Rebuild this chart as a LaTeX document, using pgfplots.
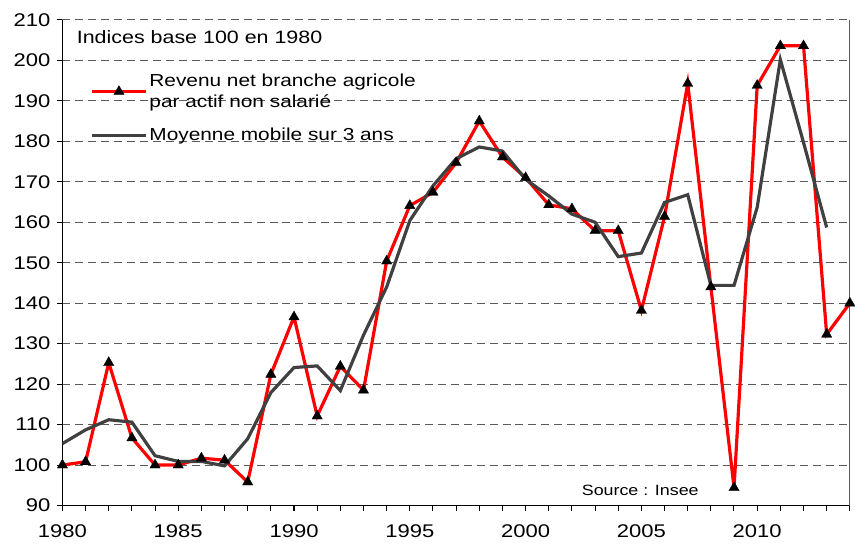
\documentclass[border=0pt]{standalone}
\usepackage{pgfplots}
\pgfplotsset{compat=1.18}
\usepackage{fontspec}
\setmainfont{Liberation Sans}[FakeStretch=1.2]
\definecolor{rred}{HTML}{FF0000}
\definecolor{mgray}{HTML}{404040}
\definecolor{ggray}{HTML}{5A5A5A}
\begin{document}
\begin{tikzpicture}
\begin{axis}[
  scale only axis, width=790.8bp, height=487.7bp,
  xmin=1980, xmax=2014, ymin=90, ymax=210,
  xtick={1980,1985,...,2010}, minor xtick={1980,...,2014},
  ytick={90,100,...,210},
  axis x line*=bottom, axis y line*=left,
  axis line style={black, line width=1.4bp, -},
  tick align=outside, major tick length=5.5bp, minor tick length=5.5bp,
  tick style={black, line width=1bp},
  ymajorgrids, grid style={ggray, line width=1bp, dash pattern=on 8bp off 5bp},
  /pgf/number format/1000 sep={}, /pgf/number format/assume math mode=true,
  tick label style={font=\fontsize{18.5}{21}\selectfont},
  yticklabel style={xshift=-3bp},
  xticklabel style={yshift=-10bp},
  legend style={at={([xshift=25bp,yshift=-50bp]rel axis cs:0,1)}, anchor=north west, draw=none, fill=none,
    font=\fontsize{17.5}{21.6}\selectfont, row sep=15bp,
    cells={anchor=west, align=left}},
  legend cell align=left,
  legend image code/.code={\draw[mark repeat=2,mark phase=2,#1] plot coordinates {(0bp,0bp) (27bp,0bp) (54bp,0bp)};},
]
\addplot[rred, line width=3.2bp, mark=triangle*, mark size=6bp, mark options={black, fill=black, solid, line width=0.3bp}] coordinates {
(1980,100.0) (1981,100.8) (1982,125.3) (1983,106.7) (1984,100.0) (1985,100.0)
(1986,101.7) (1987,101.2) (1988,95.8) (1989,122.4) (1990,136.6) (1991,112.1)
(1992,124.4) (1993,118.5) (1994,150.4) (1995,164.1) (1996,167.4) (1997,174.7)
(1998,185.0) (1999,176.1) (2000,171.0) (2001,164.3) (2002,163.3) (2003,157.9)
(2004,157.9) (2005,138.2) (2006,161.4) (2007,194.3) (2008,144.0) (2009,94.4)
(2010,193.8) (2011,203.6) (2012,203.6) (2013,132.3) (2014,140.0)};
\addlegendentry{Revenu net branche agricole\\par actif non salarié}
\addplot[mgray, line width=3.2bp, no marks] coordinates {
(1980,105.3) (1981,108.7) (1982,111.2) (1983,110.6) (1984,102.3) (1985,100.9)
(1986,100.9) (1987,99.8) (1988,106.5) (1989,117.9) (1990,124.1) (1991,124.5)
(1992,118.4) (1993,132.1) (1994,144.0) (1995,160.4) (1996,169.0) (1997,175.7)
(1998,178.6) (1999,177.6) (2000,170.6) (2001,166.5) (2002,162.0) (2003,160.0)
(2004,151.5) (2005,152.4) (2006,164.9) (2007,166.8) (2008,144.4) (2009,144.4)
(2010,163.7) (2011,200.2) (2012,179.7) (2013,158.7)};
\addlegendentry{Moyenne mobile sur 3 ans}
\draw[ggray, line width=1.4bp] (rel axis cs:1,0) -- (rel axis cs:1,1);
\node[anchor=west, inner sep=0pt, font=\fontsize{18}{21}\selectfont] at ([xshift=14.3bp, yshift=-17bp]rel axis cs:0,1) {Indices base 100 en 1980};
\node[inner sep=0pt, font=\fontsize{15}{18}\selectfont] at (axis cs:2004.95,93.7) {Source : Insee};
\end{axis}
\path[use as bounding box] (-62.7bp,-42.3bp) rectangle (792.3bp,507.7bp);
\end{tikzpicture}
\end{document}
